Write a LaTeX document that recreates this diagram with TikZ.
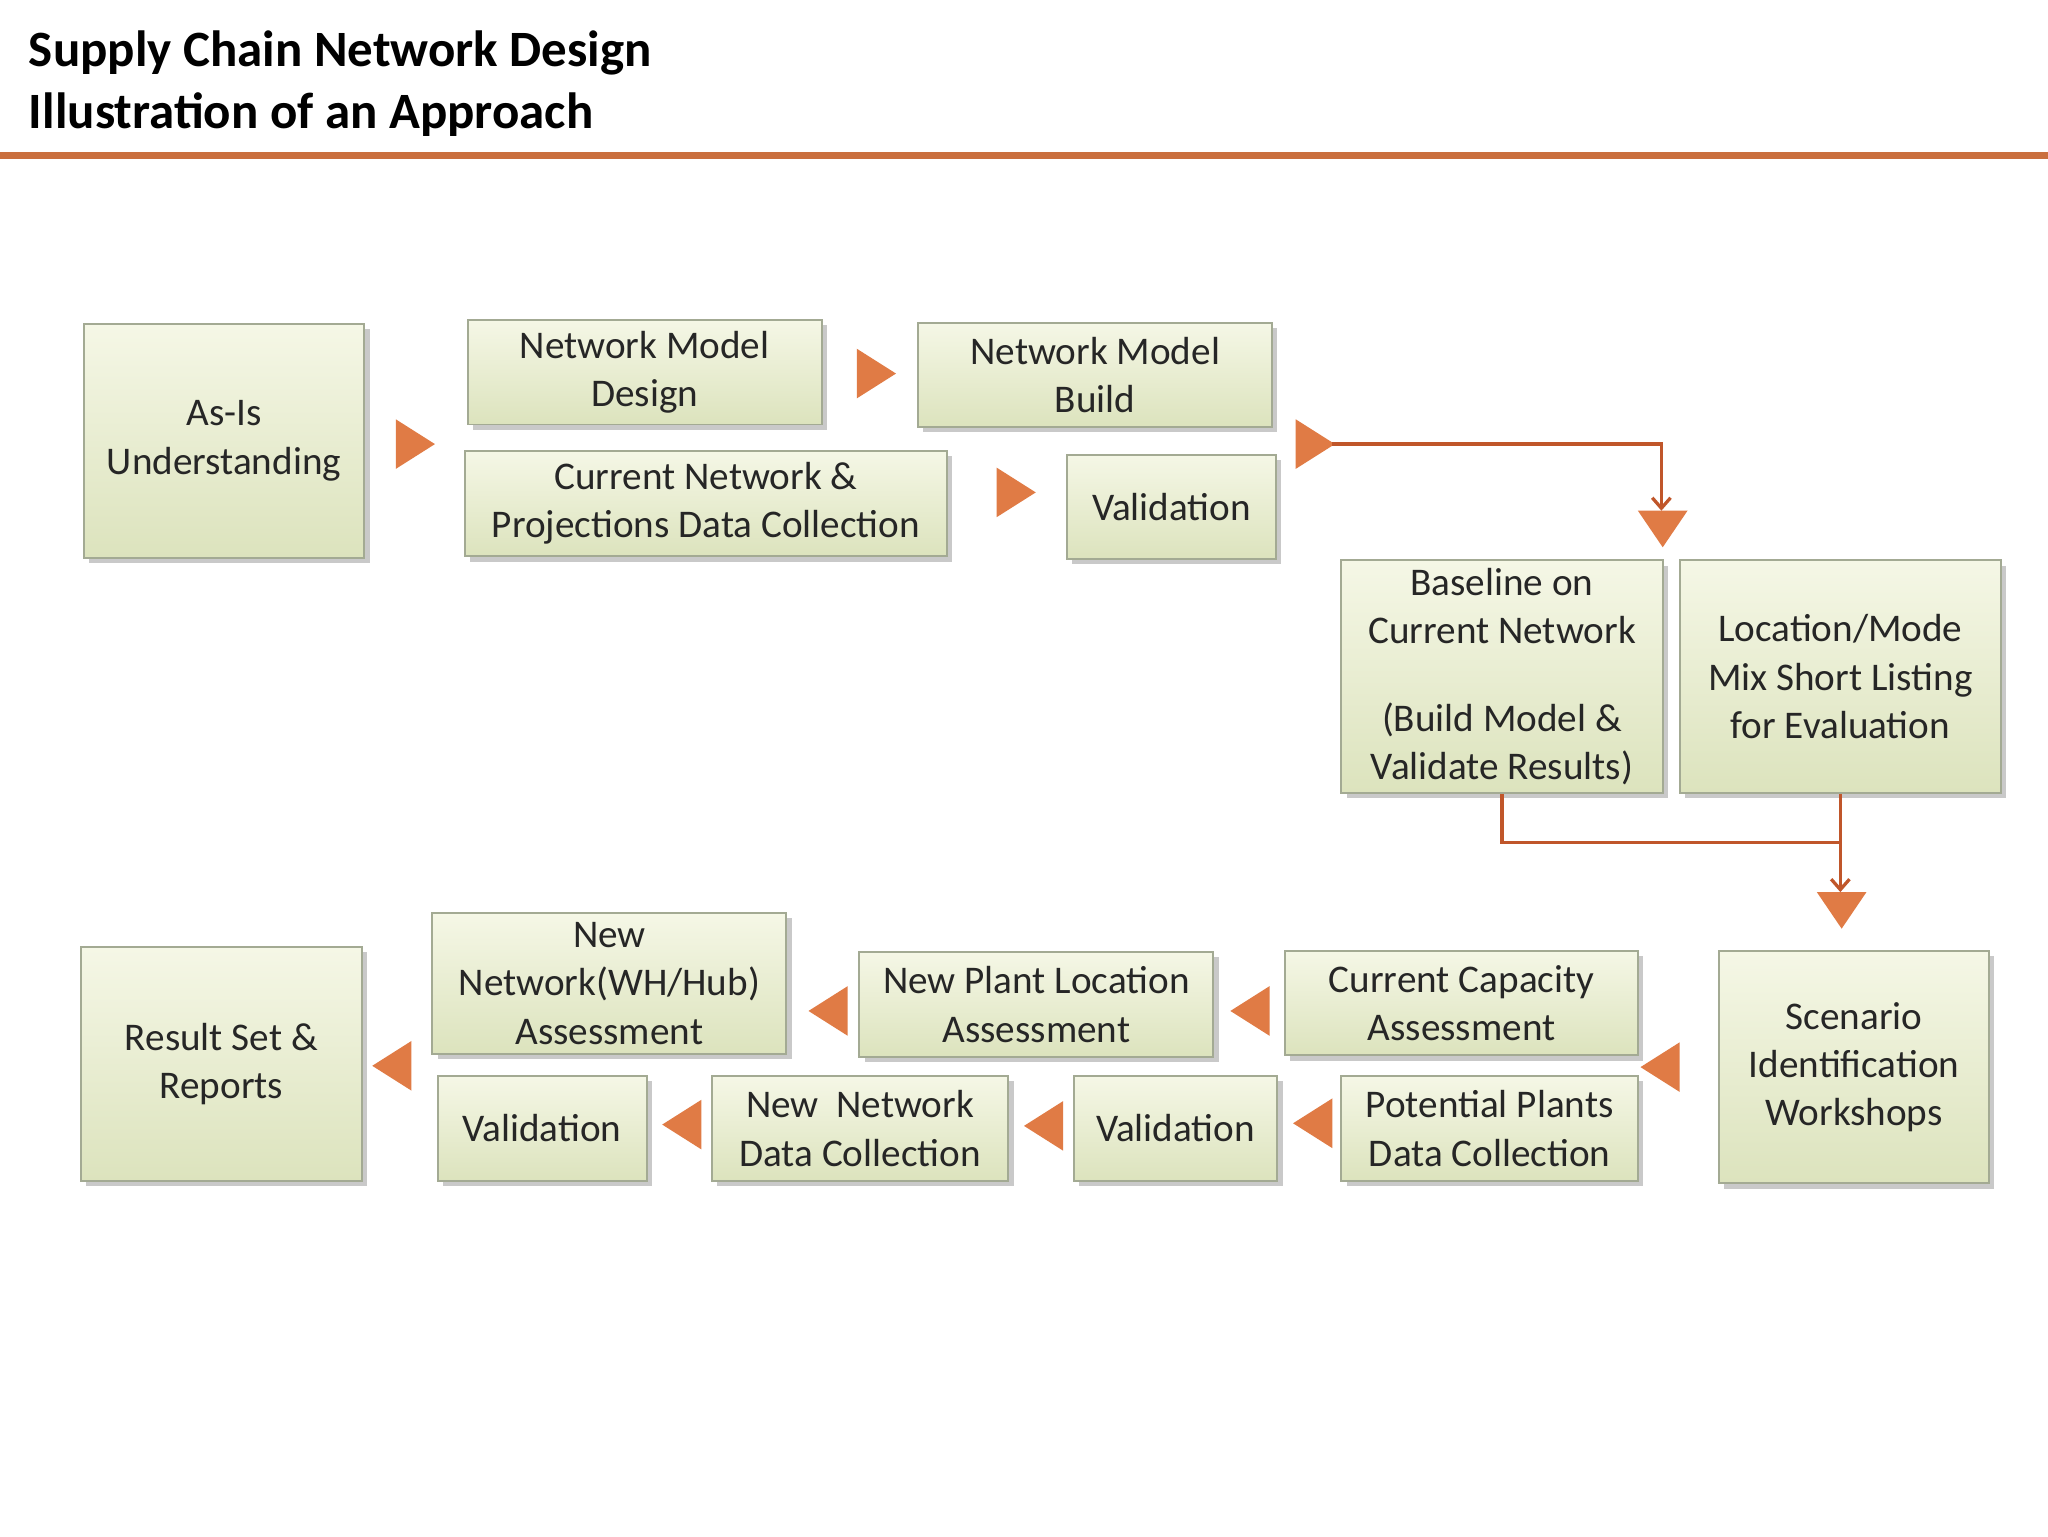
\documentclass[tikz,border=0pt]{standalone}
\usepackage{fontspec}
\setmainfont{Carlito}
\usetikzlibrary{shadows,calc,arrows.meta}
\definecolor{tri}{HTML}{E07B45}
\definecolor{lnk}{HTML}{C0562A}
\definecolor{bd}{HTML}{A3AA93}
\tikzset{
  box/.style={draw=bd,line width=1.5pt,top color=boxtop,bottom color=boxbot,align=center,inner sep=0pt,
    font=\fontsize{30}{37}\selectfont,text=black!85,
    drop shadow={opacity=0.35,shadow xshift=4pt,shadow yshift=-4pt,fill=black!60}},
  arr/.style={fill=tri,draw=none},
  conn/.style={draw=lnk,line width=2.5pt}
}
\definecolor{boxtop}{HTML}{F5F7E6}
\definecolor{boxbot}{HTML}{DCE3BD}
\newcommand\bx[6]{\node[box,minimum width={(#4-#2)*1pt},minimum height={(#5-#3)*1pt}] (#1) at ({(#2+#4)/2},{(#3+#5)/2}) {#6};}
\newcommand\tr[2]{\fill[arr] (#1-15,#2-19) -- (#1+15,#2) -- (#1-15,#2+19) -- cycle;}
\newcommand\tl[2]{\fill[arr] (#1+15,#2-19) -- (#1-15,#2) -- (#1+15,#2+19) -- cycle;}
\newcommand\td[2]{\fill[arr] (#1-19,#2-14) -- (#1+19,#2-14) -- (#1,#2+14) -- cycle;}
\begin{document}
\begin{tikzpicture}[x=1pt,y=-1pt]
\useasboundingbox (0,0) rectangle (1568,1176);
\fill[white] (0,0) rectangle (1568,1176);
\node[anchor=west,font=\fontsize{39}{47}\selectfont\bfseries,align=left,inner sep=0] (title) at (22,64) {Supply Chain Network Design\\Illustration of an Approach};
\fill[tri!90!black] (0,116) rectangle (1568,122);
\bx{A}{64}{248}{279}{427}{As-Is\\Understanding}
\bx{B}{358}{245}{629}{325}{Network Model\\Design}
\bx{C}{356}{345}{725}{426}{Current Network \&\\Projections Data Collection}
\bx{D}{703}{247}{974}{327}{Network Model\\Build}
\bx{E}{817}{348}{977}{428}{Validation}
\bx{F}{1027}{429}{1273}{607}{Baseline on\\Current Network\\[30pt](Build Model \&\\Validate Results)}
\bx{G}{1286}{429}{1532}{607}{Location/Mode\\Mix Short Listing\\for Evaluation}
\bx{H}{1316}{728}{1523}{906}{Scenario\\Identification\\Workshops}
\bx{I}{984}{728}{1254}{808}{Current Capacity\\Assessment}
\bx{J}{1027}{824}{1254}{904}{Potential Plants\\Data Collection}
\bx{K}{822}{824}{978}{904}{Validation}
\bx{L}{658}{729}{929}{809}{New Plant Location\\Assessment}
\bx{M}{545}{824}{772}{904}{New\ \ Network\\Data Collection}
\bx{N}{331}{699}{602}{807}{New\\Network(WH/Hub)\\Assessment}
\bx{O}{335}{824}{495}{904}{Validation}
\bx{P}{62}{725}{277}{904}{Result Set \&\\Reports}
\tr{318}{340}\tr{671}{286}\tr{778}{377}\tr{1007}{340}
\td{1273}{405}\td{1410}{697}
\tl{1271}{817}\tl{957}{774}\tl{1005}{860}\tl{799}{862}\tl{634}{774}\tl{522}{861}\tl{300}{816}
\coordinate (s1) at (1020,340);
\coordinate (e1) at (1272,391);
\draw[conn,-{Straight Barb[length=8pt,width=14pt]}] (s1) -| (e1);
\coordinate (j1) at (G.south|-0,645);
\coordinate (e2) at (G.south|-0,683);
\draw[conn] (F.south) |- (j1);
\draw[conn,-{Straight Barb[length=8pt,width=14pt]}] (G.south) -- (e2);
\end{tikzpicture}
\end{document}
